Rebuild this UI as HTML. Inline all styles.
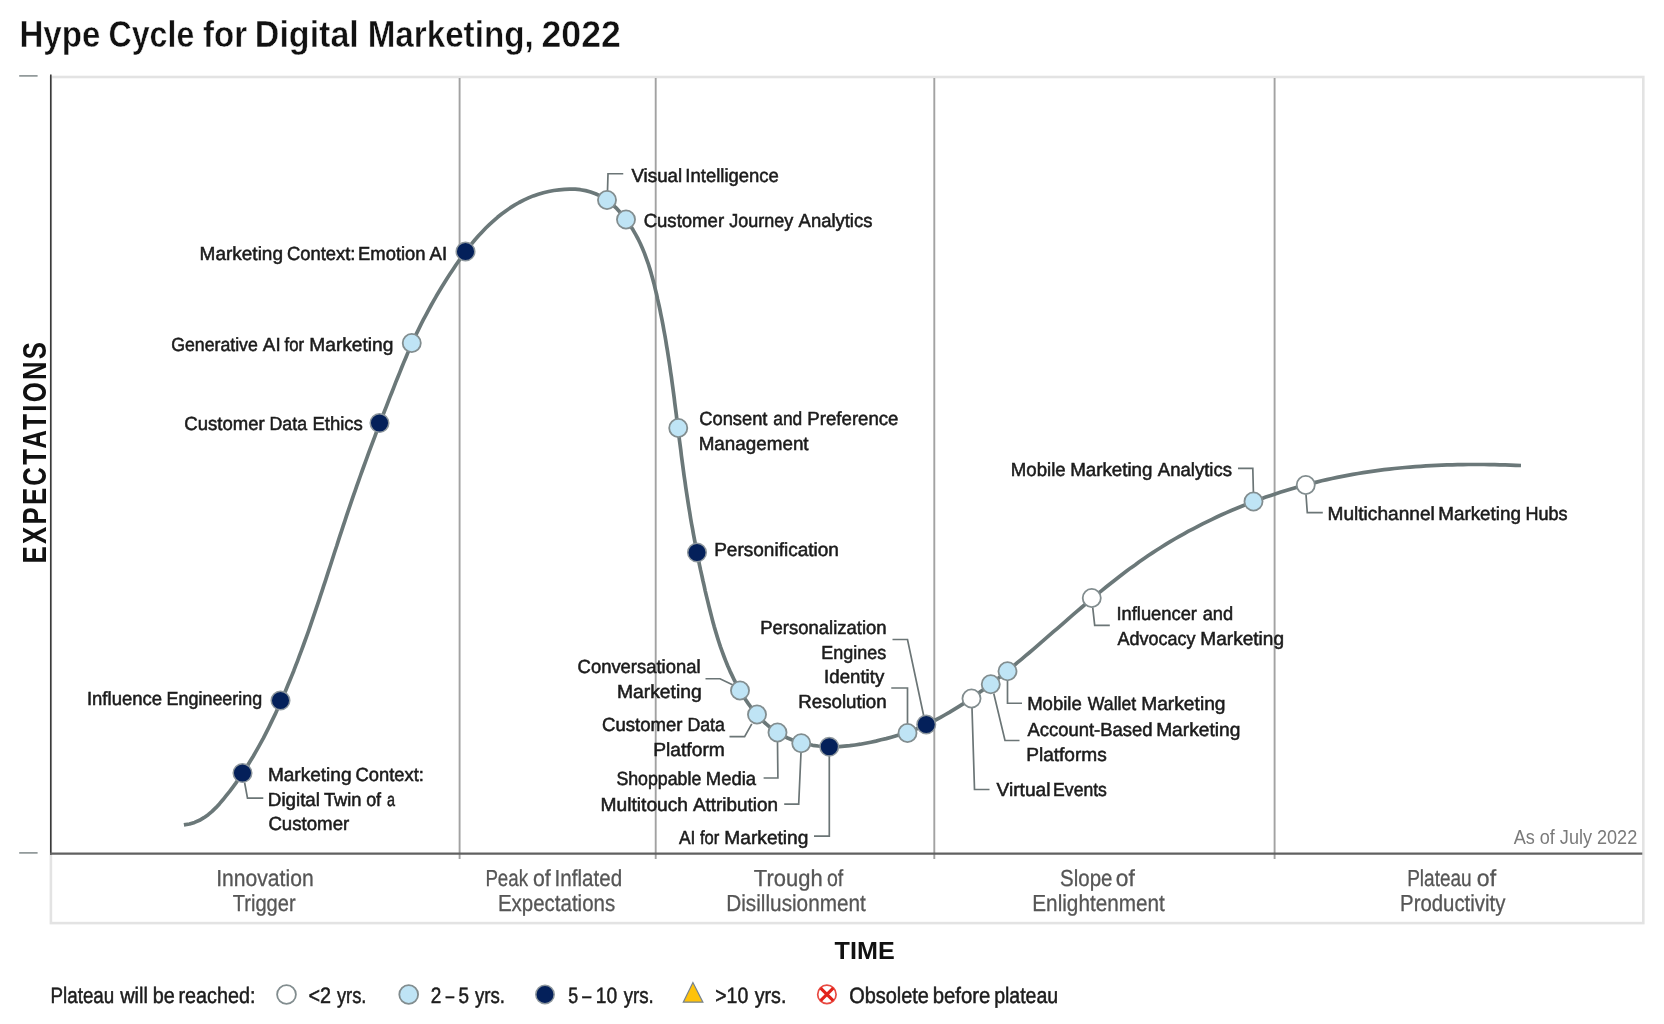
<!DOCTYPE html>
<html lang="en"><head><meta charset="utf-8"><title>Hype Cycle for Digital Marketing, 2022</title>
<style>
html,body{margin:0;padding:0;background:#fff;}
body{width:1664px;height:1024px;overflow:hidden;font-family:"Liberation Sans",sans-serif;}
svg{display:block;transform:translateZ(0);will-change:transform;}
text{font-family:"Liberation Sans",sans-serif;}
.lb{font-size:19px;text-rendering:geometricPrecision;fill:#1c1c1c;stroke:#1c1c1c;stroke-width:0.55px;}
.ph{font-size:23.2px;text-rendering:geometricPrecision;fill:#565656;stroke:#565656;stroke-width:0.3px;}
.lg{font-size:22.3px;text-rendering:geometricPrecision;fill:#1c1c1c;stroke:#1c1c1c;stroke-width:0.5px;}
.asof{font-size:19.6px;fill:#7a7a7a;}
.title{font-size:37.2px;font-weight:bold;fill:#111;stroke:#fff;stroke-width:0.45px;}
.axis{font-weight:bold;fill:#111;}
.ld{fill:none;stroke:#6b7576;stroke-width:1.7;}
.dv{stroke:#a2a2a2;stroke-width:1.9;}
.dw{fill:#fff;stroke:#828d8f;stroke-width:1.8;}
.dl{fill:#bfe4f5;stroke:#828d8f;stroke-width:1.8;}
.dd{fill:#04205a;stroke:#8e979d;stroke-width:1.5;}
</style></head><body>
<svg width="1664" height="1024" viewBox="0 0 1664 1024">
<rect width="1664" height="1024" fill="#fff"/>

<text class="title" y="46.50"><tspan x="19.47" textLength="80.91" lengthAdjust="spacingAndGlyphs">Hype</tspan> <tspan x="108.47" textLength="85.80" lengthAdjust="spacingAndGlyphs">Cycle</tspan> <tspan x="202.95" textLength="44.09" lengthAdjust="spacingAndGlyphs">for</tspan> <tspan x="254.83" textLength="103.99" lengthAdjust="spacingAndGlyphs">Digital</tspan> <tspan x="367.68" textLength="165.98" lengthAdjust="spacingAndGlyphs">Marketing,</tspan> <tspan x="541.47" textLength="79.32" lengthAdjust="spacingAndGlyphs">2022</tspan></text>
<rect x="50.9" y="77" width="1592.4" height="846.1" fill="none" stroke="#e3e3e3" stroke-width="2.6"/>
<line class="dv" x1="459.6" y1="78" x2="459.6" y2="859"/>
<line class="dv" x1="655.7" y1="78" x2="655.7" y2="859"/>
<line class="dv" x1="934.3" y1="78" x2="934.3" y2="859"/>
<line class="dv" x1="1274.6" y1="78" x2="1274.6" y2="859"/>
<line x1="19.2" y1="75.9" x2="37.6" y2="75.9" stroke="#7f8889" stroke-width="1.5"/>
<line x1="19.2" y1="852.9" x2="37.6" y2="852.9" stroke="#7f8889" stroke-width="1.5"/>
<line x1="50.8" y1="74.5" x2="50.8" y2="854.7" stroke="#3a3a3a" stroke-width="1.6"/>
<line x1="50" y1="853.6" x2="1642.3" y2="853.6" stroke="#606060" stroke-width="2.3"/>
<path d="M183.9,824.9 L189.5,824.0 L194.6,822.4 L199.5,820.3 L203.9,817.7 L208.2,814.7 L212.1,811.4 L215.9,807.7 L219.4,803.9 L222.9,799.8 L226.2,795.7 L229.5,791.6 L232.7,787.3 L235.8,783.1 L238.8,778.8 L241.8,774.4 L244.7,770.0 L247.6,765.5 L250.3,761.0 L253.1,756.5 L255.7,751.9 L258.3,747.4 L260.9,742.7 L263.4,738.1 L265.8,733.4 L268.2,728.7 L270.5,723.9 L272.8,719.1 L275.1,714.4 L277.3,709.6 L279.5,704.7 L281.6,699.9 L283.7,695.1 L285.8,690.2 L287.8,685.3 L289.8,680.5 L291.8,675.6 L293.8,670.7 L295.7,665.7 L297.6,660.8 L299.4,655.9 L301.3,650.9 L303.1,646.0 L304.9,641.0 L306.7,636.1 L308.5,631.1 L310.2,626.1 L311.9,621.1 L313.6,616.2 L315.3,611.2 L317.0,606.2 L318.7,601.2 L320.3,596.1 L322.0,591.1 L323.6,586.1 L325.3,581.1 L326.9,576.1 L328.5,571.1 L330.2,566.0 L331.8,561.0 L333.4,556.0 L335.0,551.0 L336.7,546.0 L338.3,540.9 L339.9,535.9 L341.6,530.9 L343.2,525.9 L344.9,520.9 L346.5,515.9 L348.2,510.9 L349.9,505.9 L351.6,500.9 L353.3,495.9 L355.1,490.9 L356.8,485.9 L358.6,480.9 L360.3,476.0 L362.1,471.0 L363.9,466.0 L365.7,461.1 L367.5,456.1 L369.3,451.2 L371.2,446.2 L373.0,441.3 L374.9,436.3 L376.7,431.4 L378.6,426.5 L380.5,421.5 L382.4,416.6 L384.3,411.7 L386.2,406.8 L388.1,401.8 L390.0,396.9 L392.0,392.0 L393.9,387.1 L395.8,382.2 L397.8,377.3 L399.8,372.4 L401.7,367.5 L403.7,362.6 L405.8,357.7 L407.8,352.9 L409.9,348.0 L412.1,343.2 L414.3,338.4 L416.5,333.6 L418.8,328.9 L421.1,324.1 L423.5,319.4 L426.0,314.8 L428.5,310.1 L431.0,305.5 L433.6,300.9 L436.2,296.3 L438.9,291.8 L441.6,287.2 L444.4,282.7 L447.2,278.3 L450.1,273.8 L453.0,269.4 L455.9,265.0 L458.9,260.7 L462.0,256.4 L465.1,252.1 L468.3,247.9 L471.6,243.8 L475.0,239.7 L478.5,235.8 L482.1,231.9 L485.8,228.0 L489.6,224.3 L493.5,220.8 L497.5,217.3 L501.6,214.0 L505.8,210.9 L510.1,207.9 L514.5,205.1 L519.1,202.5 L523.7,200.1 L528.5,197.9 L533.3,195.9 L538.3,194.2 L543.4,192.7 L548.6,191.5 L553.8,190.5 L559.2,189.8 L564.5,189.3 L569.8,189.1 L575.2,189.2 L580.4,189.7 L585.6,190.6 L590.6,192.0 L595.5,193.7 L600.2,195.9 L604.7,198.6 L608.9,201.7 L613.0,205.1 L616.9,208.7 L620.5,212.7 L624.0,216.8 L627.2,221.0 L630.2,225.4 L633.0,229.8 L635.6,234.4 L638.1,239.0 L640.4,243.8 L642.5,248.6 L644.5,253.4 L646.3,258.4 L648.1,263.3 L649.7,268.4 L651.2,273.4 L652.6,278.5 L654.0,283.7 L655.2,288.8 L656.5,294.0 L657.6,299.2 L658.8,304.3 L659.9,309.5 L660.9,314.7 L662.0,319.9 L663.0,325.1 L663.9,330.3 L664.9,335.5 L665.8,340.7 L666.6,345.9 L667.5,351.1 L668.3,356.3 L669.1,361.5 L669.9,366.7 L670.6,371.9 L671.4,377.1 L672.1,382.4 L672.8,387.6 L673.5,392.8 L674.2,398.0 L674.8,403.3 L675.5,408.5 L676.2,413.7 L676.8,419.0 L677.5,424.2 L678.1,429.4 L678.8,434.7 L679.4,439.9 L680.1,445.1 L680.8,450.3 L681.4,455.6 L682.1,460.8 L682.8,466.0 L683.5,471.3 L684.2,476.5 L685.0,481.7 L685.7,486.9 L686.5,492.2 L687.3,497.4 L688.1,502.6 L688.9,507.8 L689.8,513.0 L690.6,518.3 L691.5,523.5 L692.5,528.7 L693.4,533.9 L694.4,539.1 L695.4,544.3 L696.4,549.5 L697.4,554.6 L698.5,559.8 L699.5,565.0 L700.6,570.2 L701.8,575.3 L702.9,580.5 L704.1,585.6 L705.2,590.8 L706.4,595.9 L707.7,601.1 L708.9,606.2 L710.2,611.3 L711.5,616.4 L712.8,621.5 L714.2,626.6 L715.7,631.6 L717.2,636.6 L718.8,641.7 L720.4,646.6 L722.2,651.6 L724.0,656.5 L725.9,661.4 L727.9,666.3 L730.0,671.1 L732.3,675.9 L734.6,680.7 L737.1,685.4 L739.7,690.0 L742.4,694.6 L745.3,699.2 L748.3,703.6 L751.5,708.0 L754.9,712.2 L758.4,716.2 L762.0,720.1 L765.8,723.7 L769.8,727.1 L774.0,730.2 L778.4,733.1 L782.9,735.7 L787.6,738.0 L792.4,740.0 L797.4,741.7 L802.5,743.1 L807.6,744.3 L812.8,745.3 L818.1,746.0 L823.4,746.5 L828.7,746.7 L834.0,746.7 L839.3,746.6 L844.5,746.2 L849.8,745.7 L855.1,745.0 L860.3,744.2 L865.5,743.2 L870.7,742.2 L875.9,741.1 L881.0,739.8 L886.2,738.6 L891.3,737.2 L896.3,735.8 L901.4,734.3 L906.4,732.7 L911.4,730.9 L916.3,729.0 L921.2,726.9 L926.0,724.7 L930.8,722.4 L935.5,720.0 L940.1,717.6 L944.7,715.0 L949.3,712.4 L953.8,709.7 L958.3,706.9 L962.7,704.1 L967.1,701.2 L971.4,698.2 L975.7,695.2 L980.0,692.1 L984.3,689.0 L988.5,685.9 L992.7,682.7 L996.8,679.4 L1001.0,676.1 L1005.1,672.8 L1009.2,669.5 L1013.3,666.1 L1017.3,662.7 L1021.4,659.3 L1025.4,655.9 L1029.5,652.5 L1033.5,649.1 L1037.5,645.6 L1041.5,642.1 L1045.5,638.7 L1049.5,635.2 L1053.5,631.7 L1057.5,628.3 L1061.5,624.8 L1065.5,621.3 L1069.4,617.8 L1073.4,614.4 L1077.5,610.9 L1081.5,607.5 L1085.5,604.1 L1089.5,600.7 L1093.6,597.3 L1097.6,593.9 L1101.7,590.6 L1105.8,587.3 L1109.9,584.0 L1114.1,580.7 L1118.2,577.5 L1122.4,574.2 L1126.6,571.1 L1130.8,567.9 L1135.1,564.9 L1139.3,561.8 L1143.7,558.8 L1148.0,555.8 L1152.4,552.9 L1156.8,550.0 L1161.2,547.2 L1165.7,544.4 L1170.2,541.7 L1174.7,539.0 L1179.3,536.4 L1183.9,533.8 L1188.5,531.2 L1193.2,528.8 L1197.9,526.3 L1202.6,523.9 L1207.3,521.6 L1212.0,519.3 L1216.8,517.0 L1221.6,514.8 L1226.5,512.6 L1231.3,510.5 L1236.2,508.5 L1241.1,506.5 L1246.0,504.5 L1250.9,502.6 L1255.9,500.7 L1260.8,498.9 L1265.8,497.1 L1270.8,495.4 L1275.9,493.7 L1280.9,492.1 L1286.0,490.5 L1291.0,489.0 L1296.1,487.5 L1301.2,486.1 L1306.3,484.7 L1311.4,483.4 L1316.6,482.1 L1321.7,480.8 L1326.9,479.6 L1332.0,478.5 L1337.2,477.4 L1342.4,476.4 L1347.6,475.4 L1352.8,474.4 L1358.0,473.5 L1363.2,472.7 L1368.4,471.9 L1373.6,471.1 L1378.8,470.4 L1384.0,469.7 L1389.3,469.1 L1394.5,468.5 L1399.7,468.0 L1405.0,467.5 L1410.2,467.1 L1415.5,466.6 L1420.7,466.3 L1426.0,465.9 L1431.3,465.6 L1436.5,465.4 L1441.8,465.1 L1447.1,464.9 L1452.3,464.8 L1457.6,464.7 L1462.9,464.6 L1468.2,464.5 L1473.5,464.5 L1478.7,464.5 L1484.0,464.5 L1489.3,464.6 L1494.6,464.7 L1499.9,464.8 L1505.2,464.9 L1510.5,465.1 L1515.7,465.3 L1521.0,465.5" fill="none" stroke="#6b7879" stroke-width="3.7" stroke-linejoin="round"/>
<polyline class="ld" points="607.5,191 608,173.75 623.25,173.75"/>
<polyline class="ld" points="244.6,782.5 247.5,798.2 263.3,798.2"/>
<polyline class="ld" points="705.5,678.75 720,678.75 733,685"/>
<polyline class="ld" points="729.5,736.6 744.6,736.6 751.8,723.8"/>
<polyline class="ld" points="763.6,778 777.9,778 777.5,741.5"/>
<polyline class="ld" points="784.2,804.1 798.7,804.1 801,752.5"/>
<polyline class="ld" points="814,836.2 829.3,836.2 829.3,756"/>
<polyline class="ld" points="892.5,639.5 907.5,639.5 923.75,716"/>
<polyline class="ld" points="891.25,688 907.5,688 907.5,724"/>
<polyline class="ld" points="972,708 974.5,789.5 989.5,789.5"/>
<polyline class="ld" points="993.75,693.5 1005,740.5 1019.5,740.5"/>
<polyline class="ld" points="1007.5,680.5 1007.5,703.25 1022,703.25"/>
<polyline class="ld" points="1092.7,607.4 1094.7,625.3 1109.8,625.3"/>
<polyline class="ld" points="1238,468.4 1252.8,468.4 1253.4,492"/>
<polyline class="ld" points="1306,494.5 1307.3,512.7 1322.8,512.7"/>
<circle class="dd" cx="242.5" cy="773" r="9.3"/>
<circle class="dd" cx="280.5" cy="700.5" r="9.3"/>
<circle class="dd" cx="379.5" cy="423" r="9.3"/>
<circle class="dl" cx="411.75" cy="343" r="9.05"/>
<circle class="dd" cx="465.5" cy="251.5" r="9.3"/>
<circle class="dl" cx="607" cy="200" r="9.05"/>
<circle class="dl" cx="626" cy="219.5" r="9.05"/>
<circle class="dl" cx="678.25" cy="428" r="9.05"/>
<circle class="dd" cx="697" cy="552.5" r="9.3"/>
<circle class="dl" cx="740" cy="690.5" r="9.05"/>
<circle class="dl" cx="757" cy="714.5" r="9.05"/>
<circle class="dl" cx="777.5" cy="732.5" r="9.05"/>
<circle class="dl" cx="801.25" cy="743.25" r="9.05"/>
<circle class="dd" cx="829.25" cy="746.75" r="9.3"/>
<circle class="dl" cx="907.5" cy="733" r="9.05"/>
<circle class="dd" cx="926.25" cy="724.5" r="9.3"/>
<circle class="dw" cx="971.5" cy="698.5" r="9.05"/>
<circle class="dl" cx="990.75" cy="684.25" r="9.05"/>
<circle class="dl" cx="1007.5" cy="671.25" r="9.05"/>
<circle class="dw" cx="1091.75" cy="598" r="9.05"/>
<circle class="dl" cx="1253.5" cy="501.5" r="9.05"/>
<circle class="dw" cx="1305.75" cy="485" r="9.05"/>
<text class="lb" y="181.50"><tspan x="631.47" textLength="50.64" lengthAdjust="spacingAndGlyphs">Visual</tspan> <tspan x="685.36" textLength="93.49" lengthAdjust="spacingAndGlyphs">Intelligence</tspan></text>
<text class="lb" y="226.50"><tspan x="643.66" textLength="80.41" lengthAdjust="spacingAndGlyphs">Customer</tspan> <tspan x="729.16" textLength="64.05" lengthAdjust="spacingAndGlyphs">Journey</tspan> <tspan x="798.61" textLength="73.77" lengthAdjust="spacingAndGlyphs">Analytics</tspan></text>
<text class="lb" y="260.00"><tspan x="199.60" textLength="83.40" lengthAdjust="spacingAndGlyphs">Marketing</tspan> <tspan x="287.05" textLength="68.41" lengthAdjust="spacingAndGlyphs">Context:</tspan> <tspan x="358.08" textLength="67.48" lengthAdjust="spacingAndGlyphs">Emotion</tspan> <tspan x="429.62" textLength="17.62" lengthAdjust="spacingAndGlyphs">AI</tspan></text>
<text class="lb" y="350.50"><tspan x="171.13" textLength="86.73" lengthAdjust="spacingAndGlyphs">Generative</tspan> <tspan x="262.85" textLength="17.77" lengthAdjust="spacingAndGlyphs">AI</tspan> <tspan x="284.56" textLength="19.53" lengthAdjust="spacingAndGlyphs">for</tspan> <tspan x="309.26" textLength="84.18" lengthAdjust="spacingAndGlyphs">Marketing</tspan></text>
<text class="lb" y="430.00"><tspan x="184.29" textLength="80.33" lengthAdjust="spacingAndGlyphs">Customer</tspan> <tspan x="269.54" textLength="37.50" lengthAdjust="spacingAndGlyphs">Data</tspan> <tspan x="312.43" textLength="50.47" lengthAdjust="spacingAndGlyphs">Ethics</tspan></text>
<text class="lb" y="425.40"><tspan x="699.21" textLength="68.27" lengthAdjust="spacingAndGlyphs">Consent</tspan> <tspan x="773.27" textLength="28.92" lengthAdjust="spacingAndGlyphs">and</tspan> <tspan x="807.35" textLength="91.15" lengthAdjust="spacingAndGlyphs">Preference</tspan></text>
<text class="lb" y="450.40"><tspan x="698.68" textLength="109.94" lengthAdjust="spacingAndGlyphs">Management</tspan></text>
<text class="lb" y="556.00"><tspan x="714.18" textLength="124.73" lengthAdjust="spacingAndGlyphs">Personification</tspan></text>
<text class="lb" y="704.50"><tspan x="86.93" textLength="75.20" lengthAdjust="spacingAndGlyphs">Influence</tspan> <tspan x="166.62" textLength="95.52" lengthAdjust="spacingAndGlyphs">Engineering</tspan></text>
<text class="lb" y="780.80"><tspan x="267.92" textLength="83.57" lengthAdjust="spacingAndGlyphs">Marketing</tspan> <tspan x="355.60" textLength="68.35" lengthAdjust="spacingAndGlyphs">Context:</tspan></text>
<text class="lb" y="805.70"><tspan x="267.85" textLength="52.14" lengthAdjust="spacingAndGlyphs">Digital</tspan> <tspan x="323.91" textLength="37.66" lengthAdjust="spacingAndGlyphs">Twin</tspan> <tspan x="366.14" textLength="14.99" lengthAdjust="spacingAndGlyphs">of</tspan> <tspan x="386.99" textLength="8.02" lengthAdjust="spacingAndGlyphs">a</tspan></text>
<text class="lb" y="830.30"><tspan x="268.42" textLength="80.81" lengthAdjust="spacingAndGlyphs">Customer</tspan></text>
<text class="lb" y="634.00"><tspan x="760.14" textLength="126.49" lengthAdjust="spacingAndGlyphs">Personalization</tspan></text>
<text class="lb" y="659.20"><tspan x="821.32" textLength="65.00" lengthAdjust="spacingAndGlyphs">Engines</tspan></text>
<text class="lb" y="683.00"><tspan x="824.12" textLength="60.13" lengthAdjust="spacingAndGlyphs">Identity</tspan></text>
<text class="lb" y="708.00"><tspan x="798.21" textLength="88.51" lengthAdjust="spacingAndGlyphs">Resolution</tspan></text>
<text class="lb" y="673.00"><tspan x="577.61" textLength="122.92" lengthAdjust="spacingAndGlyphs">Conversational</tspan></text>
<text class="lb" y="698.00"><tspan x="616.91" textLength="84.85" lengthAdjust="spacingAndGlyphs">Marketing</tspan></text>
<text class="lb" y="731.20"><tspan x="602.00" textLength="80.38" lengthAdjust="spacingAndGlyphs">Customer</tspan> <tspan x="687.39" textLength="37.52" lengthAdjust="spacingAndGlyphs">Data</tspan></text>
<text class="lb" y="755.60"><tspan x="653.24" textLength="71.59" lengthAdjust="spacingAndGlyphs">Platform</tspan></text>
<text class="lb" y="785.30"><tspan x="616.42" textLength="84.89" lengthAdjust="spacingAndGlyphs">Shoppable</tspan> <tspan x="705.86" textLength="50.19" lengthAdjust="spacingAndGlyphs">Media</tspan></text>
<text class="lb" y="811.30"><tspan x="600.51" textLength="87.57" lengthAdjust="spacingAndGlyphs">Multitouch</tspan> <tspan x="692.88" textLength="85.04" lengthAdjust="spacingAndGlyphs">Attribution</tspan></text>
<text class="lb" y="844.00"><tspan x="678.92" textLength="16.46" lengthAdjust="spacingAndGlyphs">AI</tspan> <tspan x="699.98" textLength="19.33" lengthAdjust="spacingAndGlyphs">for</tspan> <tspan x="724.35" textLength="84.07" lengthAdjust="spacingAndGlyphs">Marketing</tspan></text>
<text class="lb" y="620.00"><tspan x="1116.48" textLength="80.51" lengthAdjust="spacingAndGlyphs">Influencer</tspan> <tspan x="1202.63" textLength="30.47" lengthAdjust="spacingAndGlyphs">and</tspan></text>
<text class="lb" y="644.50"><tspan x="1117.50" textLength="77.89" lengthAdjust="spacingAndGlyphs">Advocacy</tspan> <tspan x="1200.34" textLength="83.68" lengthAdjust="spacingAndGlyphs">Marketing</tspan></text>
<text class="lb" y="709.80"><tspan x="1027.13" textLength="54.70" lengthAdjust="spacingAndGlyphs">Mobile</tspan> <tspan x="1087.86" textLength="48.30" lengthAdjust="spacingAndGlyphs">Wallet</tspan> <tspan x="1141.15" textLength="84.41" lengthAdjust="spacingAndGlyphs">Marketing</tspan></text>
<text class="lb" y="736.20"><tspan x="1027.39" textLength="125.12" lengthAdjust="spacingAndGlyphs">Account-Based</tspan> <tspan x="1156.15" textLength="84.18" lengthAdjust="spacingAndGlyphs">Marketing</tspan></text>
<text class="lb" y="760.60"><tspan x="1026.17" textLength="80.61" lengthAdjust="spacingAndGlyphs">Platforms</tspan></text>
<text class="lb" y="796.25"><tspan x="996.47" textLength="53.99" lengthAdjust="spacingAndGlyphs">Virtual</tspan> <tspan x="1053.11" textLength="53.77" lengthAdjust="spacingAndGlyphs">Events</tspan></text>
<text class="lb" y="475.75"><tspan x="1010.79" textLength="54.87" lengthAdjust="spacingAndGlyphs">Mobile</tspan> <tspan x="1070.18" textLength="82.27" lengthAdjust="spacingAndGlyphs">Marketing</tspan> <tspan x="1157.86" textLength="74.12" lengthAdjust="spacingAndGlyphs">Analytics</tspan></text>
<text class="lb" y="519.50"><tspan x="1327.49" textLength="107.33" lengthAdjust="spacingAndGlyphs">Multichannel</tspan> <tspan x="1438.25" textLength="82.72" lengthAdjust="spacingAndGlyphs">Marketing</tspan> <tspan x="1525.48" textLength="42.14" lengthAdjust="spacingAndGlyphs">Hubs</tspan></text>
<text class="ph" y="885.60"><tspan x="216.14" textLength="97.51" lengthAdjust="spacingAndGlyphs">Innovation</tspan></text>
<text class="ph" y="910.50"><tspan x="232.72" textLength="62.90" lengthAdjust="spacingAndGlyphs">Trigger</tspan></text>
<text class="ph" y="885.60"><tspan x="485.38" textLength="42.64" lengthAdjust="spacingAndGlyphs">Peak</tspan> <tspan x="533.03" textLength="17.75" lengthAdjust="spacingAndGlyphs">of</tspan> <tspan x="554.62" textLength="67.59" lengthAdjust="spacingAndGlyphs">Inflated</tspan></text>
<text class="ph" y="910.50"><tspan x="497.97" textLength="117.17" lengthAdjust="spacingAndGlyphs">Expectations</tspan></text>
<text class="ph" y="885.60"><tspan x="753.87" textLength="68.76" lengthAdjust="spacingAndGlyphs">Trough</tspan> <tspan x="826.92" textLength="16.29" lengthAdjust="spacingAndGlyphs">of</tspan></text>
<text class="ph" y="910.50"><tspan x="726.28" textLength="139.61" lengthAdjust="spacingAndGlyphs">Disillusionment</tspan></text>
<text class="ph" y="885.60"><tspan x="1060.11" textLength="52.39" lengthAdjust="spacingAndGlyphs">Slope</tspan> <tspan x="1115.87" textLength="19.01" lengthAdjust="spacingAndGlyphs">of</tspan></text>
<text class="ph" y="910.50"><tspan x="1032.29" textLength="132.59" lengthAdjust="spacingAndGlyphs">Enlightenment</tspan></text>
<text class="ph" y="885.60"><tspan x="1407.15" textLength="64.51" lengthAdjust="spacingAndGlyphs">Plateau</tspan> <tspan x="1476.82" textLength="19.22" lengthAdjust="spacingAndGlyphs">of</tspan></text>
<text class="ph" y="910.50"><tspan x="1400.07" textLength="105.31" lengthAdjust="spacingAndGlyphs">Productivity</tspan></text>
<text class="lg" y="1003.20"><tspan x="50.58" textLength="63.68" lengthAdjust="spacingAndGlyphs">Plateau</tspan> <tspan x="120.15" textLength="27.82" lengthAdjust="spacingAndGlyphs">will</tspan> <tspan x="152.67" textLength="22.04" lengthAdjust="spacingAndGlyphs">be</tspan> <tspan x="178.47" textLength="77.02" lengthAdjust="spacingAndGlyphs">reached:</tspan></text>
<text class="lg" y="1003.20"><tspan x="308.55" textLength="22.55" lengthAdjust="spacingAndGlyphs">&lt;2</tspan> <tspan x="336.95" textLength="29.50" lengthAdjust="spacingAndGlyphs">yrs.</tspan></text>
<text class="lg" y="1003.20"><tspan x="430.80" textLength="10.56" lengthAdjust="spacingAndGlyphs">2</tspan><tspan x="445.68" textLength="8.39" lengthAdjust="spacingAndGlyphs">–</tspan><tspan x="458.48" textLength="10.51" lengthAdjust="spacingAndGlyphs">5</tspan> <tspan x="474.95" textLength="30.01" lengthAdjust="spacingAndGlyphs">yrs.</tspan></text>
<text class="lg" y="1003.20"><tspan x="568.35" textLength="9.90" lengthAdjust="spacingAndGlyphs">5</tspan><tspan x="582.34" textLength="8.97" lengthAdjust="spacingAndGlyphs">–</tspan><tspan x="595.71" textLength="21.36" lengthAdjust="spacingAndGlyphs">10</tspan> <tspan x="623.65" textLength="30.17" lengthAdjust="spacingAndGlyphs">yrs.</tspan></text>
<text class="lg" y="1003.20"><tspan x="715.23" textLength="33.03" lengthAdjust="spacingAndGlyphs">&gt;10</tspan> <tspan x="754.71" textLength="31.67" lengthAdjust="spacingAndGlyphs">yrs.</tspan></text>
<text class="lg" y="1003.20"><tspan x="849.16" textLength="79.81" lengthAdjust="spacingAndGlyphs">Obsolete</tspan> <tspan x="932.67" textLength="57.66" lengthAdjust="spacingAndGlyphs">before</tspan> <tspan x="994.15" textLength="64.02" lengthAdjust="spacingAndGlyphs">plateau</tspan></text>
<text class="asof" y="843.60"><tspan x="1513.64" textLength="123.60" lengthAdjust="spacingAndGlyphs">As of July 2022</tspan></text>
<text class="axis" y="959.25" font-size="24.3"><tspan x="834.62" textLength="60.11" lengthAdjust="spacingAndGlyphs">TIME</tspan></text>
<text class="axis" font-size="33.7" letter-spacing="3" transform="translate(46.2,563.40) rotate(-90)" textLength="223.70" lengthAdjust="spacingAndGlyphs">EXPECTATIONS</text>
<circle class="dw" cx="286.5" cy="994.5" r="9.4"/>
<circle class="dl" cx="408.7" cy="994.5" r="9.4"/>
<circle class="dd" cx="545" cy="994.5" r="9.2"/>
<polygon points="692.9,982.6 702.9,1002.2 683.3,1002.2" fill="#ffc20a" stroke="#76838f" stroke-width="1.2" stroke-linejoin="miter"/>
<g stroke="#e2231a" fill="none"><circle cx="826.9" cy="994.4" r="9.2" stroke-width="1.7" stroke="#e84a42" fill="#fff"/><path d="M820.6,988.1 L833.2,1000.7 M833.2,988.1 L820.6,1000.7" stroke-width="3.1"/></g>
</svg></body></html>
